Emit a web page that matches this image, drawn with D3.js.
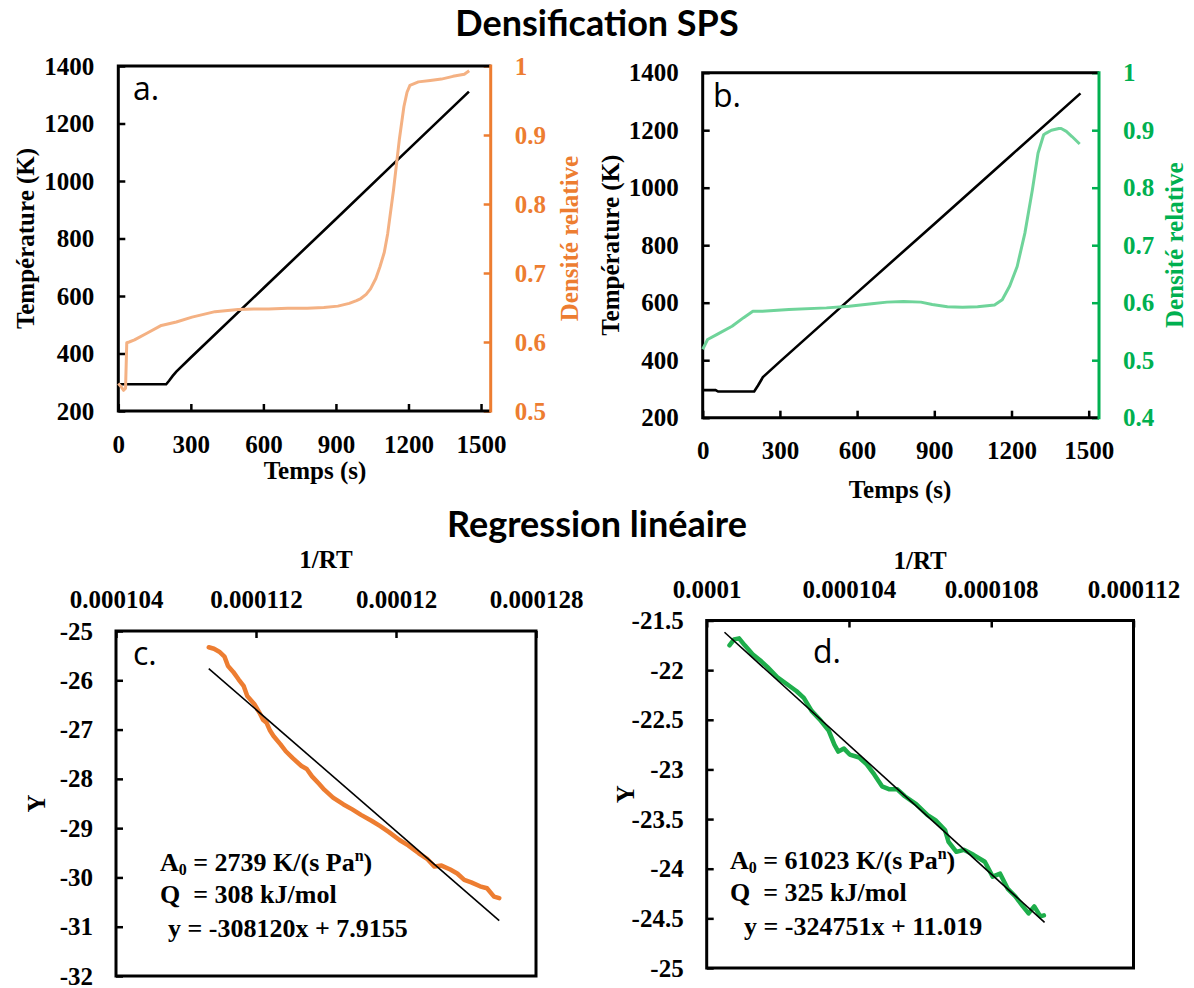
<!DOCTYPE html>
<html>
<head>
<meta charset="utf-8">
<script src="https://cdn.jsdelivr.net/npm/d3@7"></script>
<style>
  body { margin: 0; background: #fff; }
  svg { display: block; }
  .lab { font-family: "Liberation Serif", serif; font-weight: bold; font-size: 25px; }
  .ann { font-family: "Liberation Serif", serif; font-weight: bold; font-size: 26px; }
  .letter { font-family: "Open Sans", sans-serif; font-size: 32px; }
  .title { font-family: "Lato", sans-serif; font-weight: bold; font-size: 36px; }
</style>
</head>
<body>
<svg width="1194" height="988"></svg>
<script>
// ---- data: panel a (orange) ----
const timeTicks = [0, 300, 600, 900, 1200, 1500];
const tempTicks = [200, 400, 600, 800, 1000, 1200, 1400];

const timeA_T = [0, 198, 210, 225, 240, 300, 600, 900, 1200, 1450];
const tempA = [293, 293, 305, 322, 337, 386, 627, 868, 1110, 1311];
const timeA_D = [0, 10, 22, 30, 35, 45, 67, 120, 178, 240, 305, 400, 495, 560, 622, 700, 781, 850, 908, 955, 985, 1003, 1025, 1043, 1065, 1082, 1100, 1114, 1138, 1162, 1181, 1194, 1206, 1241, 1290, 1336, 1384, 1431, 1451];
const densA = [0.540, 0.536, 0.530, 0.533, 0.599, 0.600, 0.603, 0.613, 0.624, 0.629, 0.636, 0.644, 0.647, 0.648, 0.648, 0.649, 0.649, 0.650, 0.652, 0.656, 0.660, 0.663, 0.669, 0.677, 0.692, 0.709, 0.730, 0.757, 0.820, 0.893, 0.941, 0.962, 0.972, 0.977, 0.979, 0.981, 0.985, 0.988, 0.993];
const densTicksA = [0.5, 0.6, 0.7, 0.8, 0.9, 1];

// ---- data: panel b (green) ----
const timeB_T = [0, 50, 60, 200, 215, 234, 300, 600, 900, 1200, 1468];
const tempB = [296, 296, 291, 291, 312, 341, 395, 635, 874, 1114, 1328];
const timeB_D = [0, 19, 56, 114, 159, 195, 232, 335, 481, 569, 657, 716, 780, 848, 892, 951, 1010, 1068, 1134, 1164, 1193, 1222, 1252, 1281, 1303, 1325, 1335, 1355, 1384, 1393, 1413, 1435, 1465];
const densB = [0.519, 0.536, 0.545, 0.559, 0.574, 0.585, 0.585, 0.588, 0.591, 0.594, 0.598, 0.601, 0.602, 0.601, 0.597, 0.593, 0.592, 0.593, 0.596, 0.605, 0.629, 0.663, 0.721, 0.796, 0.860, 0.892, 0.895, 0.900, 0.903, 0.903, 0.898, 0.889, 0.876];
const densTicksB = [0.4, 0.5, 0.6, 0.7, 0.8, 0.9, 1];

// ---- data: panel c (regression, orange) ----
const invRT_C = [0.0001093, 0.0001096, 0.0001099, 0.0001102, 0.0001104, 0.0001107, 0.0001110, 0.0001113, 0.0001115, 0.0001119, 0.0001122, 0.0001124, 0.0001126, 0.0001128, 0.0001130, 0.0001134, 0.0001137, 0.0001141, 0.0001146, 0.0001149, 0.0001152, 0.0001156, 0.0001159, 0.0001164, 0.0001170, 0.0001175, 0.0001180, 0.0001186, 0.0001191, 0.0001196, 0.0001202, 0.0001207, 0.0001213, 0.0001218, 0.0001222, 0.0001226, 0.0001231, 0.0001235, 0.0001239, 0.0001243, 0.0001248, 0.0001252, 0.0001256, 0.0001259];
const yC = [-25.33, -25.36, -25.42, -25.52, -25.71, -25.83, -25.98, -26.12, -26.32, -26.48, -26.66, -26.80, -26.86, -27.02, -27.13, -27.30, -27.44, -27.58, -27.74, -27.80, -27.95, -28.10, -28.22, -28.38, -28.52, -28.62, -28.73, -28.85, -28.96, -29.08, -29.24, -29.35, -29.51, -29.63, -29.78, -29.76, -29.84, -29.92, -30.05, -30.10, -30.18, -30.22, -30.39, -30.42];
const xTicksC = [0.000104, 0.000112, 0.00012, 0.000128];
const yTicksC = [-32, -31, -30, -29, -28, -27, -26, -25];
const fitC = { slope: -308120, intercept: 7.9155, from: 0.0001093, to: 0.0001259 };
const a0C = "2739", qC = "308", eqC = "y = -308120x + 7.9155";

// ---- data: panel d (regression, green) ----
const invRT_D = [0.00010064, 0.00010077, 0.00010091, 0.00010107, 0.00010129, 0.0001015, 0.00010171, 0.00010198, 0.00010225, 0.00010252, 0.00010273, 0.00010295, 0.00010321, 0.00010343, 0.00010359, 0.0001037, 0.00010386, 0.00010402, 0.00010429, 0.0001045, 0.00010471, 0.00010493, 0.00010514, 0.00010536, 0.00010557, 0.00010589, 0.00010621, 0.00010643, 0.0001067, 0.0001068, 0.00010702, 0.00010723, 0.0001075, 0.00010782, 0.00010804, 0.00010825, 0.00010846, 0.00010868, 0.00010889, 0.00010905, 0.00010921, 0.00010938, 0.00010948];
const yD = [-21.75, -21.69, -21.68, -21.75, -21.84, -21.90, -21.97, -22.07, -22.14, -22.21, -22.28, -22.41, -22.51, -22.61, -22.75, -22.82, -22.79, -22.85, -22.88, -22.95, -23.05, -23.17, -23.20, -23.20, -23.27, -23.35, -23.46, -23.51, -23.61, -23.73, -23.83, -23.81, -23.86, -23.93, -24.08, -24.05, -24.20, -24.28, -24.38, -24.45, -24.38, -24.48, -24.47];
const xTicksD = [0.0001, 0.000104, 0.000108, 0.000112];
const yTicksD = [-25, -24.5, -24, -23.5, -23, -22.5, -22, -21.5];
const fitD = { slope: -324751, intercept: 11.019, from: 0.0001005, to: 0.0001095 };
const a0D = "61023", qD = "325", eqD = "y = -324751x + 11.019";

const svg = d3.select("svg");

const addText = (x, y, txt, cls, opts = {}) => {
  const t = svg.append("text")
    .attr("class", cls)
    .attr("x", x)
    .attr("y", y)
    .attr("text-anchor", opts.anchor || "middle")
    .attr("dominant-baseline", opts.baseline || "central")
    .attr("fill", opts.fill || "#000")
    .text(txt);
  if (opts.rotate) t.attr("transform", `rotate(-90,${x},${y})`);
  return t;
};

// axis text in Times-like bold, thicker tick marks
const styleAxis = (g) => {
  g.select(".domain").remove();
  g.selectAll("text")
    .style("font-family", '"Liberation Serif", serif')
    .style("font-weight", "bold")
    .style("font-size", "25px");
  g.selectAll("line").attr("stroke-width", 2.5);
};
const plain = (d) => String(+(+d).toPrecision(6));

// titles
addText(597, 22, "Densification SPS", "title");
addText(597, 523, "Regression linéaire", "title");

// ---- densification panels ----
const densPanel = (p) => {
  const x = d3.scaleLinear().domain([0, 1540]).range([p.left, p.right]);
  const yT = d3.scaleLinear().domain([200, 1400]).range([p.bottom, p.top]);
  const yR = d3.scaleLinear().domain(p.dDomain).range([p.bottom, p.top]);

  svg.append("g")
    .attr("transform", `translate(0,${p.bottom})`)
    .call(d3.axisBottom(x).tickValues(timeTicks).tickSize(-7).tickSizeOuter(0).tickPadding(p.pad).tickFormat(plain))
    .call(styleAxis);

  svg.append("g")
    .attr("transform", `translate(${p.left},0)`)
    .call(d3.axisLeft(yT).tickValues(tempTicks).tickSize(-7).tickSizeOuter(0).tickPadding(p.pad).tickFormat(plain))
    .call(styleAxis);

  const gr = svg.append("g")
    .attr("transform", `translate(${p.right},0)`)
    .call(d3.axisRight(yR).tickValues(p.dTicks).tickSize(-7).tickSizeOuter(0).tickPadding(p.pad).tickFormat(plain))
    .call(styleAxis);
  gr.selectAll("line").attr("stroke", p.axisColor);
  gr.selectAll("text").attr("fill", p.axisColor);

  // frame
  const frame = svg.append("g").attr("stroke-width", 3).attr("fill", "none");
  frame.append("path").attr("stroke", "#000")
    .attr("d", `M${p.right},${p.top}H${p.left}V${p.bottom}H${p.right}`);
  frame.append("path").attr("stroke", p.axisColor)
    .attr("d", `M${p.right},${p.top - 1.5}V${p.bottom + 1.5}`);

  const line = d3.line().x((d) => x(d[0]));
  svg.append("path")
    .attr("fill", "none").attr("stroke", "#000").attr("stroke-width", 2.6)
    .attr("d", line.y((d) => yT(d[1]))(d3.zip(p.tTimes, p.temps)));
  svg.append("path")
    .attr("fill", "none").attr("stroke", p.lineColor).attr("stroke-width", 3)
    .attr("stroke-linejoin", "round")
    .attr("d", line.y((d) => yR(d[1]))(d3.zip(p.dTimes, p.dens)));

  addText(p.letter[0], p.letter[1], p.letter[2], "letter", { anchor: "start", baseline: "auto" });
  addText(p.xLab[0], p.xLab[1], "Temps (s)", "lab");
  addText(p.yLabX, (p.top + p.bottom) / 2, "Température (K)", "lab", { rotate: true });
  addText(p.rLabX, (p.top + p.bottom) / 2, "Densité relative", "lab", { rotate: true, fill: p.axisColor });
};

densPanel({
  left: 118.3, right: 490.7, top: 66, bottom: 411, pad: 24,
  tTimes: timeA_T, temps: tempA, dTimes: timeA_D, dens: densA,
  dDomain: [0.5, 1], dTicks: densTicksA,
  axisColor: "#ED7D31", lineColor: "#F4B183",
  letter: [133, 100, "a."], xLab: [315, 470], yLabX: 25, rLabX: 569
});

densPanel({
  left: 702.7, right: 1099, top: 72.7, bottom: 417.7, pad: 24,
  tTimes: timeB_T, temps: tempB, dTimes: timeB_D, dens: densB,
  dDomain: [0.4, 1], dTicks: densTicksB,
  axisColor: "#00B050", lineColor: "#6FD49A",
  letter: [713, 107, "b."], xLab: [900, 489], yLabX: 611, rLabX: 1175
});

// ---- regression panels ----
const regPanel = (p) => {
  const x = d3.scaleLinear().domain(d3.extent(p.xTicks)).range([p.left, p.right]);
  const y = d3.scaleLinear().domain(d3.extent(p.yTicks)).range([p.bottom, p.top]);

  svg.append("g")
    .attr("transform", `translate(0,${p.top})`)
    .call(d3.axisTop(x).tickValues(p.xTicks).tickSize(-7).tickSizeOuter(0).tickPadding(23).tickFormat(plain))
    .call(styleAxis);

  svg.append("g")
    .attr("transform", `translate(${p.left},0)`)
    .call(d3.axisLeft(y).tickValues(p.yTicks).tickSize(-7).tickSizeOuter(0).tickPadding(23).tickFormat(plain))
    .call(styleAxis);

  svg.append("rect")
    .attr("x", p.left).attr("y", p.top)
    .attr("width", p.right - p.left).attr("height", p.bottom - p.top)
    .attr("fill", "none").attr("stroke", "#000").attr("stroke-width", 3);

  svg.append("path")
    .attr("fill", "none").attr("stroke", p.color).attr("stroke-width", 4.5)
    .attr("stroke-linejoin", "round").attr("stroke-linecap", "round")
    .attr("d", d3.line().x((d) => x(d[0])).y((d) => y(d[1]))(d3.zip(p.xs, p.ys)));

  const fitPts = [p.fit.from, p.fit.to].map((v) => [v, p.fit.slope * v + p.fit.intercept]);
  svg.append("path")
    .attr("fill", "none").attr("stroke", "#000").attr("stroke-width", 1.6)
    .attr("d", d3.line().x((d) => x(d[0])).y((d) => y(d[1]))(fitPts));

  addText(p.letter[0], p.letter[1], p.letter[2], "letter", { anchor: "start", baseline: "auto" });
  addText((p.left + p.right) / 2, p.rtY, "1/RT", "lab");
  addText(p.yLabX, (p.top + p.bottom) / 2, "Y", "lab", { rotate: true });

  const a = svg.append("text").attr("class", "ann").attr("x", p.ann[0]).attr("y", p.ann[1]);
  a.append("tspan").text("A");
  a.append("tspan").attr("font-size", 16).attr("dy", 4).text("0");
  a.append("tspan").attr("dy", -4).text(` = ${p.a0} K/(s Pa`);
  a.append("tspan").attr("font-size", 16).attr("dy", -10).text("n");
  a.append("tspan").attr("dy", 10).text(")");
  svg.append("text").attr("class", "ann").attr("x", p.ann[0]).attr("y", p.ann[1] + 32)
    .attr("xml:space", "preserve").text(`Q  = ${p.q} kJ/mol`);
  svg.append("text").attr("class", "ann").attr("x", p.ann[2]).attr("y", p.ann[1] + 66)
    .text(p.eq);
};

regPanel({
  left: 116, right: 536, top: 631, bottom: 976,
  xTicks: xTicksC, yTicks: yTicksC, xs: invRT_C, ys: yC, fit: fitC,
  color: "#ED7D31", letter: [133, 665, "c."], rtY: 559, yLabX: 36,
  ann: [160, 871, 168], a0: a0C, q: qC, eq: eqC
});

regPanel({
  left: 706.7, right: 1133.5, top: 620.5, bottom: 968,
  xTicks: xTicksD, yTicks: yTicksD, xs: invRT_D, ys: yD, fit: fitD,
  color: "#1EAE4B", letter: [813, 663, "d."], rtY: 560, yLabX: 625,
  ann: [730, 869, 744], a0: a0D, q: qD, eq: eqD
});
</script>
</body>
</html>
